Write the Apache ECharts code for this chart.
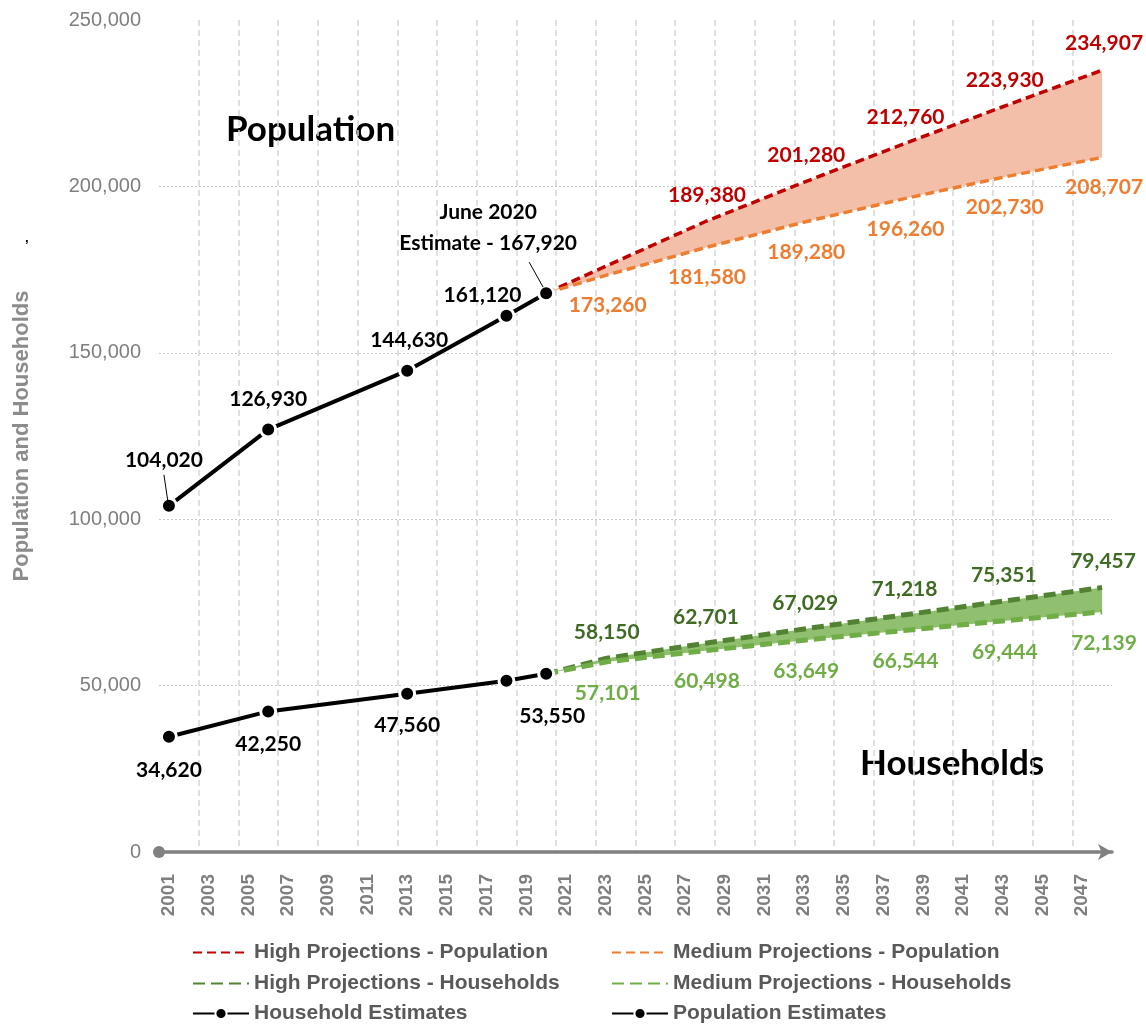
<!DOCTYPE html>
<html>
<head>
<meta charset="utf-8">
<title>Population and Households</title>
<script src="https://cdn.jsdelivr.net/npm/echarts@6/dist/echarts.min.js"></script>
<style>
  html, body { margin: 0; padding: 0; background: #fff; }
  #chart { width: 1146px; height: 1026px; }
</style>
</head>
<body>
<div id="chart"></div>
<script>
// Annual category axis, 2001 to 2048
const years = [];
for (let y = 2001; y <= 2048; y++) years.push(String(y));

// Estimates
const estimateYears = ['2001', '2006', '2013', '2018', '2020'];
const populationEstimates = [104020, 126930, 144630, 161120, 167920];
const householdEstimates = [34620, 42250, 47560, 51450, 53550];

// Projections (start from the June 2020 estimate)
const projectionYears = ['2020', '2023', '2028', '2033', '2038', '2043', '2048'];
const populationHigh = [167920, 176000, 189380, 201280, 212760, 223930, 234907];
const populationMedium = [167920, 173260, 181580, 189280, 196260, 202730, 208707];
const householdsHigh = [53550, 58150, 62701, 67029, 71218, 75351, 79457];
const householdsMedium = [53550, 57101, 60498, 63649, 66544, 69444, 72139];

// Y axis ticks
const yTicks = [0, 50000, 100000, 150000, 200000, 250000];

// Legend layout: two columns, three rows
const legendLeftColumn = ['High Projections - Population', 'High Projections - Households', 'Household Estimates'];
const legendRightColumn = ['Medium Projections - Population', 'Medium Projections - Households', 'Population Estimates'];

const fmt = v => Number(v).toLocaleString('en-US');
const LABEL_FONT = 'Lato, "Open Sans", sans-serif';
const AXIS_FONT = '"Liberation Sans", Arial, sans-serif';

// Projection labels are shown from 2023 onward (the high population 2023 point is unlabelled)
function projectionData(values, hideIdx) {
  return projectionYears.map((x, i) => ({
    value: [x, values[i]],
    label: { show: i > 0 && !hideIdx.includes(i) }
  }));
}

function projectionSeries(name, values, color, width, dash, labelColor, offset, hideIdx) {
  return {
    type: 'line', name, z: 3,
    data: projectionData(values, hideIdx || []),
    symbol: 'circle', symbolSize: 1, showSymbol: true, showAllSymbol: true,
    itemStyle: { color: 'rgba(0,0,0,0)' },
    lineStyle: { color, width, type: dash },
    label: {
      position: 'inside', offset,
      color: labelColor, fontFamily: LABEL_FONT, fontWeight: 'bold', fontSize: 21,
      formatter: p => fmt(p.value[1])
    },
    emphasis: { disabled: true }, silent: true
  };
}

// Shaded range between a high and a medium projection
function bandSeries(name, upper, lower, color) {
  return {
    type: 'custom', name, z: 1, silent: true,
    data: [[0, 0]],
    renderItem(params, api) {
      const top = projectionYears.map((y, i) => api.coord([years.indexOf(y), upper[i]]));
      const bottom = projectionYears.map((y, i) => api.coord([years.indexOf(y), lower[i]])).reverse();
      return { type: 'polygon', shape: { points: top.concat(bottom) }, style: { fill: color } };
    }
  };
}

const popLabelOffsets = [[-5, -46], [0, -30], [2, -30], [-24, -21], [-58, -65]];
const hhLabelOffsets = [[0, 33], [0, 33], [0, 32], [0, 0], [6, 42]];

const popEstimateData = estimateYears.map((x, i) => ({
  value: [x, populationEstimates[i]],
  label: {
    offset: popLabelOffsets[i],
    formatter: i === 4 ? 'June 2020\nEstimate - ' + fmt(populationEstimates[i]) : fmt(populationEstimates[i])
  }
}));

const hhEstimateData = estimateYears.map((x, i) => ({
  value: [x, householdEstimates[i]],
  label: { show: i !== 3, offset: hhLabelOffsets[i], formatter: fmt(householdEstimates[i]) }
}));

// Thin leader lines from the 2001 and June 2020 population points to their labels
const leaderIdx = [0, 4];
const leaderSegments = [[-1, -4, -5, -31], [-3, -6, -17, -31]];
const leaderSeries = {
  type: 'custom', name: 'leaders', z: 5, silent: true,
  data: leaderIdx.map(i => [years.indexOf(estimateYears[i]), populationEstimates[i]]),
  renderItem(params, api) {
    const p = api.coord([api.value(0), api.value(1)]);
    const s = leaderSegments[params.dataIndex];
    return {
      type: 'line',
      shape: { x1: p[0] + s[0], y1: p[1] + s[1], x2: p[0] + s[2], y2: p[1] + s[3] },
      style: { stroke: '#000', lineWidth: 1 }
    };
  }
};

const estimateBase = {
  type: 'line', z: 4,
  symbol: 'circle', symbolSize: 15, showSymbol: true, showAllSymbol: true,
  itemStyle: { color: '#000', borderColor: '#fff', borderWidth: 3 },
  lineStyle: { color: '#000', width: 4 },
  label: {
    show: true, position: 'inside', color: '#000',
    fontFamily: LABEL_FONT, fontWeight: 'bold', fontSize: 21, lineHeight: 31
  },
  emphasis: { disabled: true }, silent: true
};

const legendText = { fontFamily: AXIS_FONT, fontWeight: 'bold', fontSize: 21, color: '#595959', lineHeight: 20 };
const legendRowTops = [942, 973, 1003];

function legendItem(name, left, top) {
  const isProjection = name.indexOf('Projections') >= 0;
  return {
    left, top, padding: 0, itemWidth: 56, itemHeight: 14,
    textStyle: legendText, selectedMode: false,
    data: [isProjection ? { name, itemStyle: { opacity: 0 } } : { name }]
  };
}

const legends = []
  .concat(legendLeftColumn.map((n, i) => legendItem(n, 192, legendRowTops[i])))
  .concat(legendRightColumn.map((n, i) => legendItem(n, 611, legendRowTops[i])));

const chart = echarts.init(document.getElementById('chart'), null, { renderer: 'canvas' });

chart.setOption({
  animation: false,
  backgroundColor: '#fff',
  grid: { left: 159, right: 34, top: 20, bottom: 174, containLabel: false },
  xAxis: {
    type: 'category', data: years, boundaryGap: true,
    axisLine: { show: true, symbol: ['circle', 'arrow'], symbolSize: [12, 14],
      lineStyle: { color: '#808080', width: 3.5 } },
    axisTick: { show: false },
    axisLabel: { interval: 1, rotate: 90, color: '#7f7f7f', fontFamily: AXIS_FONT,
      fontWeight: 'bold', fontSize: 19, margin: 22 },
    splitLine: { show: true, interval: 1, showMinLine: false, showMaxLine: false,
      lineStyle: { color: '#d6d6d6', width: 1.5, type: [6, 4] } }
  },
  yAxis: {
    type: 'value', min: yTicks[0], max: yTicks[yTicks.length - 1], interval: yTicks[1] - yTicks[0],
    axisLine: { show: false }, axisTick: { show: false },
    axisLabel: { color: '#7f7f7f', fontFamily: AXIS_FONT, fontSize: 20, margin: 18, formatter: fmt },
    splitLine: { show: true, showMinLine: false, showMaxLine: false,
      lineStyle: { color: '#c8c8c8', width: 1, type: [2, 2] } },
    name: 'Population and Households', nameLocation: 'middle', nameGap: 126,
    nameTextStyle: { color: '#8c8c8c', fontFamily: AXIS_FONT, fontWeight: 'bold', fontSize: 22 }
  },
  legend: legends,
  graphic: [
    { type: 'text', left: 226, top: 112, silent: true,
      style: { text: 'Population', fill: '#000', font: 'bold 35px ' + LABEL_FONT } },
    { type: 'text', left: 860, top: 746, silent: true,
      style: { text: 'Households', fill: '#000', font: 'bold 35px ' + LABEL_FONT } },
    { type: 'text', left: 25, top: 232, silent: true,
      style: { text: ',', fill: '#000', font: 'bold 13px ' + AXIS_FONT } }
  ],
  series: [
    bandSeries('Population range', populationHigh, populationMedium, '#F4BFA9'),
    bandSeries('Households range', householdsHigh, householdsMedium, '#8FBF6F'),
    projectionSeries('High Projections - Population', populationHigh, '#C00000', 3.5, [9, 5], '#C00000', [2, -27], [1]),
    projectionSeries('Medium Projections - Population', populationMedium, '#ED7D31', 3.5, [9, 5], '#ED7D31', [2, 30]),
    projectionSeries('High Projections - Households', householdsHigh, '#548235', 5, [12, 6], '#3F6B24', [1, -26]),
    projectionSeries('Medium Projections - Households', householdsMedium, '#70AD47', 5, [12, 6], '#70AD47', [2, 31]),
    Object.assign({}, estimateBase, { name: 'Household Estimates', data: hhEstimateData }),
    Object.assign({}, estimateBase, { name: 'Population Estimates', data: popEstimateData }),
    leaderSeries
  ]
});
</script>
</body>
</html>
